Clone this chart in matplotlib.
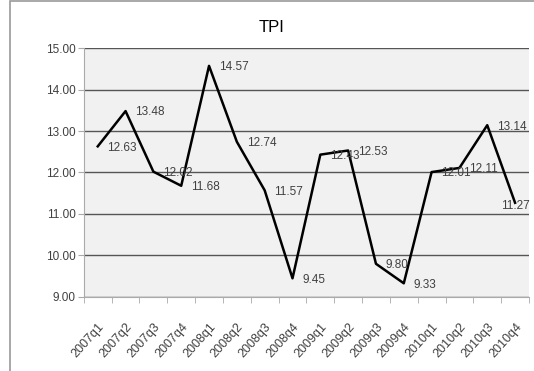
import matplotlib.pyplot as plt
import matplotlib.patches as patches
import numpy as np

quarters = ['2007q1', '2007q2', '2007q3', '2007q4',
            '2008q1', '2008q2', '2008q3', '2008q4',
            '2009q1', '2009q2', '2009q3', '2009q4',
            '2010q1', '2010q2', '2010q3', '2010q4']
tpi = [12.63, 13.48, 12.02, 11.68, 14.57, 12.74, 11.57, 9.45,
       12.43, 12.53, 9.80, 9.33, 12.01, 12.11, 13.14, 11.27]
yticks = [9, 10, 11, 12, 13, 14, 15]

plt.rcParams['font.family'] = ['Liberation Sans Narrow', 'Liberation Sans', 'DejaVu Sans']

fig = plt.figure(figsize=(5.34, 3.71), dpi=100)
# outer chart frame
fig.patches.append(patches.Rectangle((10 / 534, -0.1), 1.0, 1.097, transform=fig.transFigure,
                                     fill=False, edgecolor='#9a9a9a', linewidth=1.2))
ax = fig.add_axes([0.157, 0.1995, 0.8336, 0.6711])
ax.set_facecolor('#f1f1f1')

x = np.arange(len(quarters))
ax.plot(x, tpi, color='black', linewidth=1.8, zorder=3)
for i, (xi, v) in enumerate(zip(x, tpi)):
    if i == len(tpi) - 1:
        # last label sits on the point, inside the plot edge
        ax.annotate("{:.2f}".format(v), (xi, v), xytext=(0, -2), textcoords='offset points',
                    ha='center', va='center', fontsize=8.5, color='#404040', zorder=4)
    else:
        ax.annotate("{:.2f}".format(v), (xi, v), xytext=(7, -1), textcoords='offset points',
                    ha='left', va='center', fontsize=8.5, color='#404040', zorder=4)

ax.set_xlim(-0.5, len(quarters) - 0.5)
ax.set_ylim(9, 15)
ax.set_yticks(yticks)
ax.set_yticklabels(["{:.2f}".format(t) for t in yticks], fontsize=8.5, color='#404040')
ax.yaxis.grid(True, color='#555555', linewidth=1.0)
ax.set_axisbelow(True)

ax.set_xticks(x)
ax.set_xticklabels(quarters, rotation=48, ha='right', rotation_mode='anchor',
                   fontsize=9, color='#404040')
ax.set_xticks(np.arange(len(quarters) + 1) - 0.5, minor=True)
ax.tick_params(axis='x', which='major', length=0, pad=17)
ax.tick_params(axis='x', which='minor', length=4, color='#aaaaaa', direction='out')
ax.tick_params(axis='y', length=4, color='#aaaaaa', direction='out', pad=2)

for s in ['top', 'right']:
    ax.spines[s].set_visible(False)
ax.spines['left'].set_color('#aaaaaa')
ax.spines['bottom'].set_color('#aaaaaa')

fig.text(272 / 534, 1 - 28 / 371, 'TPI', ha='center', va='center', fontsize=12, color='black')

plt.savefig('out.png', dpi=100)
